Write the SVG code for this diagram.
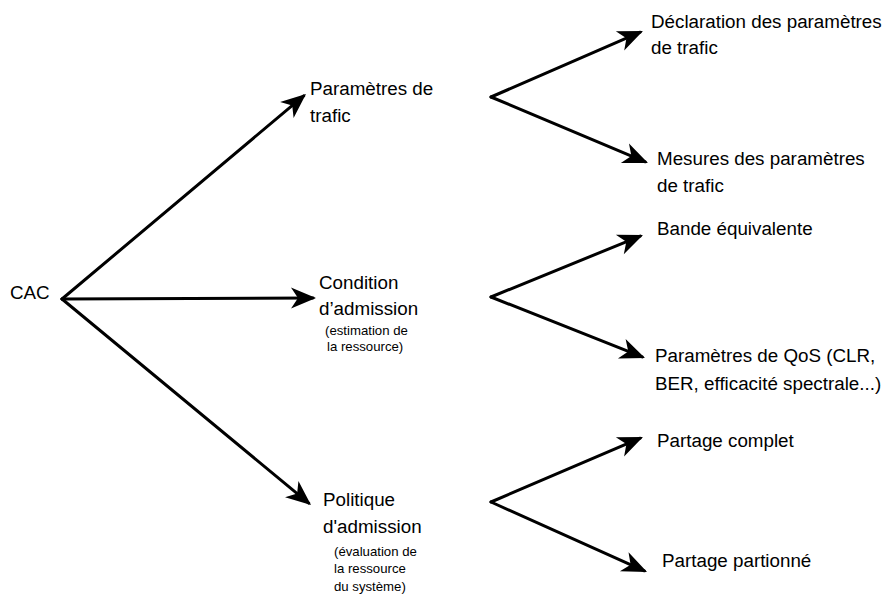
<svg xmlns="http://www.w3.org/2000/svg" width="885" height="595" viewBox="0 0 885 595">
<defs>
<marker id="ah" viewBox="-27 -12 30 24" refX="-3" refY="0" markerWidth="30" markerHeight="24" markerUnits="userSpaceOnUse" orient="auto">
<path d="M0,0 L-25,-10.5 L-18,0 L-25,10.5 Z" fill="#000"/>
</marker>
</defs>
<style>
.e{stroke:#000;stroke-width:3;fill:none;stroke-linecap:round;marker-end:url(#ah)}
text{font-family:"Liberation Sans",Arial,sans-serif;fill:#000}
.l{font-size:18.8px}
.s{font-size:13.2px}
</style>
<rect width="885" height="595" fill="#fff"/>
<g id="connectors">
<path class="e" d="M62,299 L303.7,95.9"/>
<path class="e" d="M62,299 L313,298"/>
<path class="e" d="M62,299 L308.7,503.1"/>
<path class="e" d="M491,97 L640.2,32.2"/>
<path class="e" d="M491,97 L645.2,161.8"/>
<path class="e" d="M491,297 L640.2,236.1"/>
<path class="e" d="M491,297 L642.2,356.9"/>
<path class="e" d="M491,502 L640.2,438.2"/>
<path class="e" d="M491,502 L644.3,570.8"/>
</g>
<g id="cac"><text class="l" x="10" y="299">CAC</text></g>
<g id="parametres-trafic"><text class="l" x="310" y="95">Paramètres de</text><text class="l" x="310" y="122">trafic</text></g>
<g id="condition-admission"><text class="l" x="319" y="289">Condition</text><text class="l" x="319" y="315">d’admission</text><text class="s" x="325" y="335">(estimation de</text><text class="s" x="327" y="351">la ressource)</text></g>
<g id="politique-admission"><text class="l" x="323" y="506">Politique</text><text class="l" x="323" y="533">d'admission</text><text class="s" x="334" y="556">(évaluation de</text><text class="s" x="334" y="573">la ressource</text><text class="s" x="334" y="591">du système)</text></g>
<g id="declaration"><text class="l" x="651" y="28">Déclaration des paramètres</text><text class="l" x="651" y="54">de trafic</text></g>
<g id="mesures"><text class="l" x="657" y="165">Mesures des paramètres</text><text class="l" x="657" y="192">de trafic</text></g>
<g id="bande"><text class="l" x="657" y="235">Bande équivalente</text></g>
<g id="qos"><text class="l" x="655" y="362">Paramètres de QoS (CLR,</text><text class="l" x="655" y="390">BER, efficacité spectrale...)</text></g>
<g id="partage-complet"><text class="l" x="657" y="447">Partage complet</text></g>
<g id="partage-partionne"><text class="l" x="662" y="567">Partage partionné</text></g>
</svg>
